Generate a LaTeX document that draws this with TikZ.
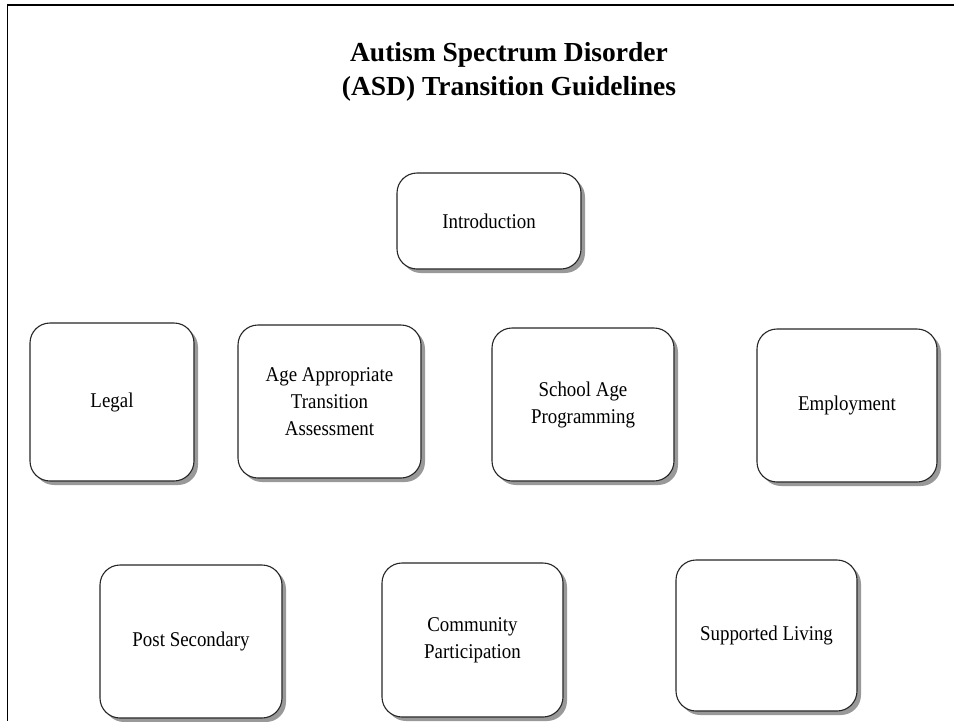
\documentclass[tikz,border=0pt]{standalone}
\usepackage{fontspec}
\setmainfont{Liberation Serif}
\newfontfamily\boxfont[FakeStretch=0.9]{Liberation Serif}
\usetikzlibrary{shadows}

\tikzset{
	topic/.style={draw=black!85, line width=1.1pt, fill=white, rounded corners=20pt,
		align=center, inner sep=0pt, font=\boxfont\fontsize{21}{27}\selectfont,
		drop shadow={shadow xshift=4pt, shadow yshift=-4pt, fill=black!50, opacity=0.8}},
	frame/.style={line width=1.5pt, black}
}

\begin{document}
\begin{tikzpicture}[x=1pt,y=-1pt]
		\useasboundingbox (0,0) rectangle (954,721);
		\draw[frame](7.5,721)--(7.5,5)--(954,5);
		\node[font=\fontsize{27.5}{34}\selectfont\bfseries, align=center] (title) at (509,72) {Autism Spectrum Disorder\\(ASD) Transition Guidelines};
		\node[topic, minimum width=184pt, minimum height=96pt] (intro) at (489,221) {Introduction};
		\node[topic, minimum width=164pt, minimum height=158pt] (legal) at (112,402) {Legal};
		\node[topic, minimum width=183pt, minimum height=153pt] (assess) at (329.5,401.5) {Age Appropriate\\Transition\\Assessment};
		\node[topic, minimum width=182pt, minimum height=153pt] (school) at (583,404.5) {School Age\\Programming};
		\node[topic, minimum width=180pt, minimum height=153pt] (employ) at (847,405.5) {Employment};
		\node[topic, minimum width=182pt, minimum height=153pt] (postsec) at (191,641.5) {Post Secondary};
		\node[topic, minimum width=181pt, minimum height=154pt] (community) at (472.5,640) {Community\\Participation};
		\node[topic, minimum width=181pt, minimum height=151pt] (living) at (766.5,635.5) {Supported Living};
		\end{tikzpicture}
\end{document}
